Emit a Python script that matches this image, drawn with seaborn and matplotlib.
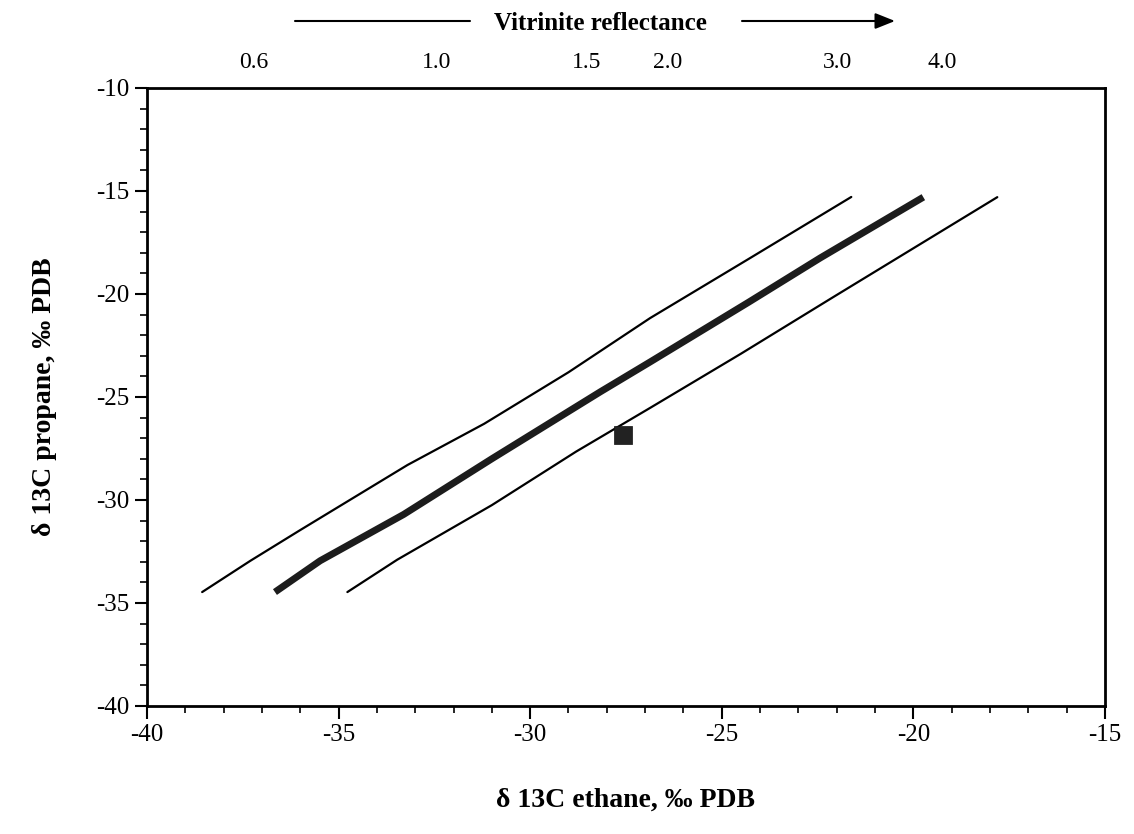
import matplotlib
matplotlib.use("Agg")
import matplotlib.pyplot as plt
from matplotlib.ticker import MultipleLocator
import seaborn as sns
import pandas as pd

# ---- data ----
upper_x = [-38.56, -37.3, -36.0, -33.2, -31.2, -29.0, -26.87, -24.3, -21.62]
upper_y = [-34.47, -32.95, -31.46, -28.3, -26.3, -23.8, -21.17, -18.3, -15.29]

mid_x = [-36.66, -35.48, -33.3, -31.0, -28.17, -26.87, -24.3, -22.43, -19.74]
mid_y = [-34.47, -32.95, -30.7, -28.0, -24.75, -23.3, -20.4, -18.25, -15.3]

lower_x = [-34.77, -33.47, -31.0, -28.8, -26.87, -24.5, -22.09, -17.81]
lower_y = [-34.47, -32.9, -30.25, -27.65, -25.53, -22.9, -20.15, -15.3]

sample_x = [-27.58]
sample_y = [-26.84]

vr_labels = ["0.6", "1.0", "1.5", "2.0", "3.0", "4.0"]
vr_pos = [-37.21, -32.45, -28.54, -26.40, -21.98, -19.24]

x_ticks = [-40, -35, -30, -25, -20, -15]
y_ticks = [-40, -35, -30, -25, -20, -15, -10]

sns.set_theme(style="ticks")
plt.rcParams["font.family"] = ["Liberation Serif", "DejaVu Serif"]
plt.rcParams["axes.unicode_minus"] = False
plt.rcParams["text.color"] = "black"
plt.rcParams["axes.labelcolor"] = "black"
plt.rcParams["xtick.color"] = "black"
plt.rcParams["ytick.color"] = "black"

fig = plt.figure(figsize=(11.34, 8.34), dpi=100)
ax = fig.add_axes([0.1296, 0.1535, 0.8448, 0.741])

df_up = pd.DataFrame({"x": upper_x, "y": upper_y})
df_mid = pd.DataFrame({"x": mid_x, "y": mid_y})
df_low = pd.DataFrame({"x": lower_x, "y": lower_y})
df_s = pd.DataFrame({"x": sample_x, "y": sample_y})

sns.lineplot(data=df_up, x="x", y="y", sort=False, estimator=None, ax=ax,
             color="black", linewidth=1.6)
sns.lineplot(data=df_mid, x="x", y="y", sort=False, estimator=None, ax=ax,
             color="#1c1c1c", linewidth=5.0, solid_capstyle="butt")
sns.lineplot(data=df_low, x="x", y="y", sort=False, estimator=None, ax=ax,
             color="black", linewidth=1.6)
sns.scatterplot(data=df_s, x="x", y="y", ax=ax, marker="s", s=150,
                color="#222222", edgecolor="#111111", linewidth=0.5, zorder=5)

ax.set_xlim(-40, -15)
ax.set_ylim(-40, -10)
ax.set_xticks(x_ticks)
ax.set_yticks(y_ticks)
ax.xaxis.set_minor_locator(MultipleLocator(1))
ax.yaxis.set_minor_locator(MultipleLocator(1))
ax.tick_params(axis="both", which="major", direction="out", length=9, width=1.5,
               labelsize=18, color="black", labelcolor="black", pad=4)
ax.tick_params(axis="both", which="minor", direction="out", length=5, width=1.2,
               color="black")
for s in ax.spines.values():
    s.set_visible(True)
    s.set_linewidth(2.0)
    s.set_color("black")

ax.set_xlabel("δ 13C ethane, ‰ PDB", fontsize=20, fontweight="bold", labelpad=30,
              color="black")
ax.set_ylabel("δ 13C propane, ‰ PDB", fontsize=20, fontweight="bold", labelpad=28,
              color="black")

# top vitrinite reflectance scale
ax2 = ax.twiny()
ax2.set_xlim(ax.get_xlim())
ax2.set_xticks(vr_pos)
ax2.set_xticklabels(vr_labels)
ax2.tick_params(axis="x", which="both", length=0, labelsize=17, pad=11,
                labelcolor="black")
ax2.xaxis.set_minor_locator(plt.NullLocator())
for s in ax2.spines.values():
    s.set_visible(False)

fig.text(600 / 1134, 1 - 23 / 834, "Vitrinite reflectance", ha="center", va="center",
         fontsize=18, fontweight="bold", color="black")
fig.add_artist(plt.Line2D([295 / 1134, 470 / 1134], [1 - 21 / 834, 1 - 21 / 834],
                          transform=fig.transFigure, color="black", linewidth=1.5))
ax.annotate("", xy=(895 / 1134, 1 - 21 / 834), xytext=(742 / 1134, 1 - 21 / 834),
            xycoords="figure fraction", textcoords="figure fraction",
            arrowprops=dict(arrowstyle="-|>,head_length=1.0,head_width=0.4",
                            color="black", linewidth=1.5, shrinkA=0, shrinkB=0))

fig.savefig("out.png", dpi=100, facecolor="white")
